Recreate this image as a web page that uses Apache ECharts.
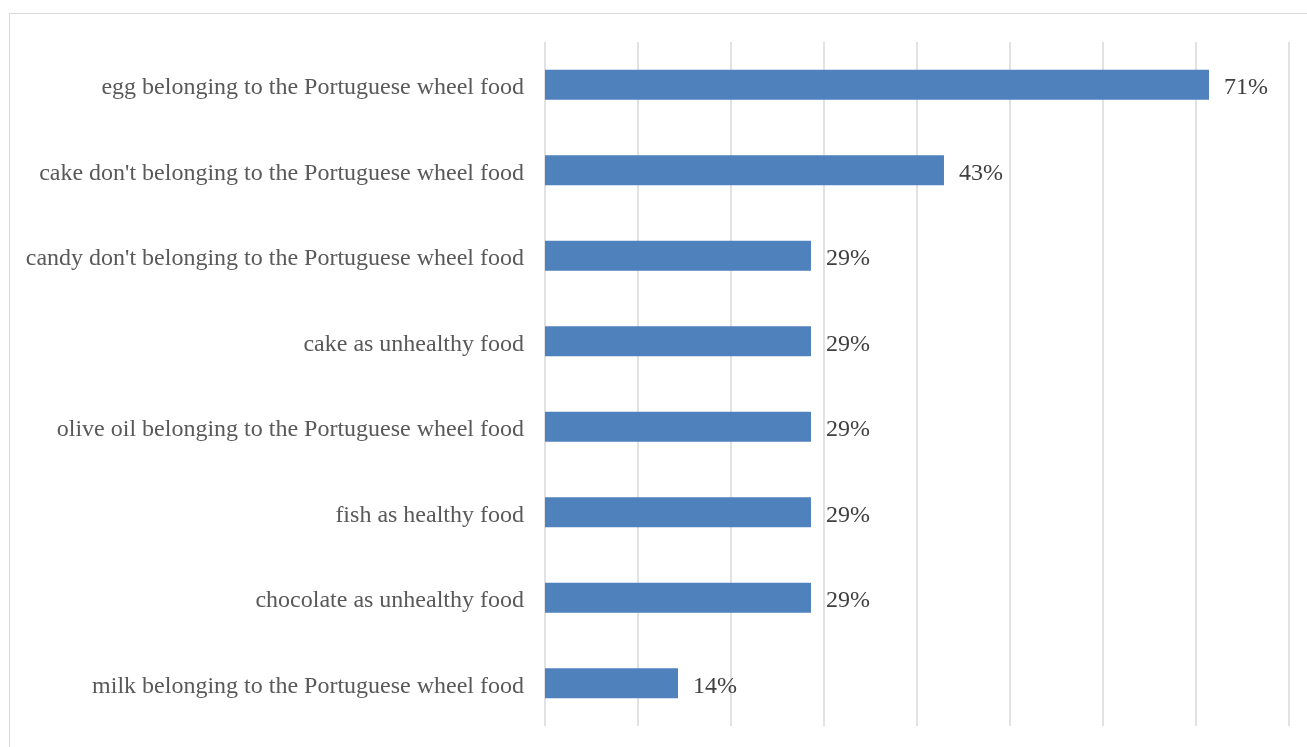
<!doctype html>
<html><head><meta charset="utf-8" />
<style>
  html,body{margin:0;padding:0;width:1307px;height:747px;background:#ffffff;overflow:hidden}
  #frame{position:absolute;left:9px;top:13px;width:1310px;height:760px;border:1px solid #d9d9d9;box-sizing:border-box}
  #app{position:absolute;left:0;top:0;width:1307px;height:747px}
</style>
<script src="https://cdn.jsdelivr.net/npm/echarts@6/dist/echarts.min.js"></script>
</head><body><div id="frame"></div><div id="app"></div>
<script>
// data (shares of 7 answers, in %)
const categories = [
  'egg belonging to the Portuguese wheel food',
  "cake don't belonging to the Portuguese wheel food",
  "candy don't belonging to the Portuguese wheel food",
  'cake as unhealthy food',
  'olive oil belonging to the Portuguese wheel food',
  'fish as healthy food',
  'chocolate as unhealthy food',
  'milk belonging to the Portuguese wheel food'
];
const values = [71.4, 42.9, 28.6, 28.6, 28.6, 28.6, 28.6, 14.3];
const axisMax = 80;
const axisStep = 10;

(function(){
  const serif = "'Liberation Serif', 'Times New Roman', 'DejaVu Serif', serif";
  const chart = echarts.init(document.getElementById('app'), null, { renderer: 'canvas' });
  const option = {
    backgroundColor: 'transparent',
    animation: false,
    grid: { left: 545, right: 18, top: 42, bottom: 21, containLabel: false, outerBoundsMode: 'none' },
    xAxis: {
      type: 'value', min: 0, max: axisMax, interval: axisStep,
      axisLabel: { show: false }, axisTick: { show: false }, axisLine: { show: false },
      splitLine: { show: true, lineStyle: { color: '#d9d9d9', width: 1.5 } }
    },
    yAxis: {
      type: 'category', data: categories, inverse: true,
      axisTick: { show: false }, axisLine: { show: false },
      axisLabel: { margin: 21,
        formatter: function(v){ return '{a|' + v + '}'; },
        rich: { a: { color: '#595959', fontFamily: serif, fontSize: 24, padding: [6, 0, 0, 0] } } }
    },
    series: [{
      type: 'bar', data: values, barWidth: 30,
      itemStyle: { color: '#4f81bd' },
      label: { show: true, position: 'right', distance: 15, offset: [0, 3], color: '#404040', fontFamily: serif, fontSize: 24,
        formatter: function(p){ return Math.round(p.value) + '%'; } }
    }]
  };
  chart.setOption(option);
})();
</script></body></html>
